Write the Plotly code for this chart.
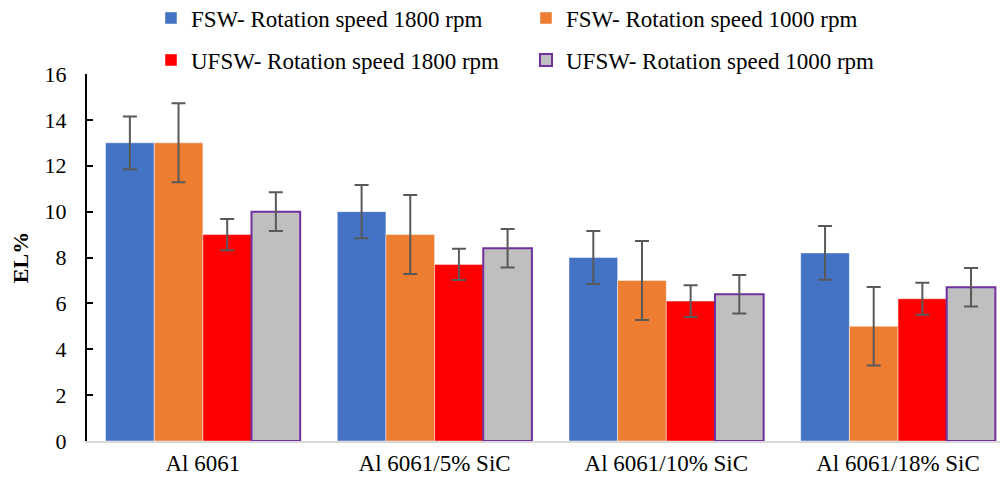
import plotly.graph_objects as go

categories = ["Al 6061", "Al 6061/5% SiC", "Al 6061/10% SiC", "Al 6061/18% SiC"]

series_names = [
    "FSW- Rotation speed 1800 rpm",
    "FSW- Rotation speed 1000 rpm",
    "UFSW- Rotation speed 1800 rpm",
    "UFSW- Rotation speed 1000 rpm",
]

fsw_1800 = [13.0, 10.0, 8.0, 8.2]
fsw_1000 = [13.0, 9.0, 7.0, 5.0]
ufsw_1800 = [9.0, 7.7, 6.1, 6.2]
ufsw_1000 = [10.0, 8.4, 6.4, 6.7]

fsw_1800_err = [1.15, 1.16, 1.16, 1.17]
fsw_1000_err = [1.72, 1.72, 1.72, 1.71]
ufsw_1800_err = [0.68, 0.68, 0.69, 0.70]
ufsw_1000_err = [0.85, 0.84, 0.84, 0.84]

values = [fsw_1800, fsw_1000, ufsw_1800, ufsw_1000]
errors = [fsw_1800_err, fsw_1000_err, ufsw_1800_err, ufsw_1000_err]
colors = ["#4472C4", "#ED7D31", "#FF0000", "#BFBFBF"]
line_colors = ["rgba(255,255,255,0.45)", "rgba(255,255,255,0.45)", "rgba(255,255,255,0.45)", "#7030A0"]
line_widths = [1, 1, 1, 2]
legends = ["legend", "legend", "legend2", "legend2"]

FONT = "Liberation Serif"

fig = go.Figure()
for name, vals, errs, c, lc, lw, lg in zip(series_names, values, errors, colors, line_colors, line_widths, legends):
    fig.add_trace(go.Bar(
        x=categories, y=vals, name=name,
        marker=dict(color=c, line=dict(color=lc, width=lw)),
        error_y=dict(type="data", array=errs, visible=True, color="#595959", thickness=2, width=7),
        legend=lg,
    ))

legend_common = dict(
    orientation="h", xanchor="left", yanchor="middle",
    font=dict(family=FONT, size=23, color="#000000"),
    bgcolor="rgba(0,0,0,0)", entrywidthmode="pixels", entrywidth=330,
    itemwidth=30, traceorder="normal",
    xref="container", yref="container",
)

fig.update_layout(
    width=1002, height=481,
    margin=dict(l=87, r=2, t=74, b=40, autoexpand=False),
    plot_bgcolor="white", paper_bgcolor="white",
    barmode="group", bargap=0.16, bargroupgap=0,
    font=dict(family=FONT, color="#000000"),
    showlegend=True,
    legend=dict(x=151 / 1002, y=1 - 18 / 481, **legend_common),
    legend2=dict(x=151 / 1002, y=1 - 60 / 481, **legend_common),
)

fig.update_xaxes(
    range=[-0.5, 3.44], showline=True, linecolor="#D9D9D9", linewidth=2,
    ticks="", tickfont=dict(family=FONT, size=23, color="#000000"),
    showgrid=False, zeroline=False,
)
fig.update_yaxes(
    range=[0, 16], dtick=2, showline=True, linecolor="#000000", linewidth=2,
    ticks="inside", ticklen=6, tickwidth=2, tickcolor="#000000",
    tickfont=dict(family=FONT, size=22, color="#000000"), ticklabelstandoff=14,
    showgrid=False, zeroline=False,
    title=dict(text="<b>EL%</b>", font=dict(family=FONT, size=22, color="#000000"), standoff=10),
)

fig.write_html("out.html")
